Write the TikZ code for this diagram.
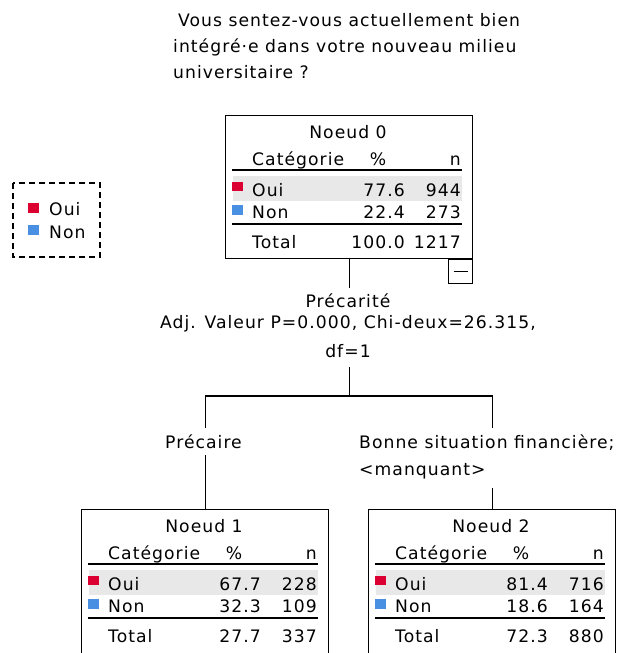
\documentclass[tikz,border=0pt]{standalone}
\usepackage{fontspec}
\newfontfamily\spssfont{DejaVu Sans}[LetterSpace=6]
\definecolor{ouired}{RGB}{220,0,50}
\definecolor{nonblue}{RGB}{74,144,226}
\definecolor{bandgray}{RGB}{232,232,232}
\tikzset{
  txt/.style={inner sep=0pt, font=\spssfont\fontsize{17.2}{20}\selectfont},
  rule/.style={line width=1.3pt, black},
  boxnode/.style={draw, line width=1.2pt, inner sep=0pt, minimum width=247pt, anchor=north west},
  conn/.style={line width=1.2pt, black},
}
% #1 name, #2 height, #3 title, #4 p1, #5 n1, #6 p2, #7 n2, #8 ptot, #9 ntot
\newcommand{\treebox}[9]{%
  \fill[bandgray] (8,61) rectangle (237,86);
  \node[boxnode, minimum height=#2pt] (#1) at (0,0) {};
  \draw[rule] (7,55) -- (237,55);
  \draw[rule] (7,109) -- (237,109);
  \fill[ouired] (7,67) rectangle (18,76);
  \fill[nonblue] (7,90) rectangle (18,100);
  \node[txt, anchor=base] (#1t) at (123,23) {#3};
  \node[txt, anchor=base west] (#1ha) at (27,50) {Catégorie};
  \node[txt, anchor=base] (#1hb) at (153,50) {\%};
  \node[txt, anchor=base east] (#1hc) at (236,50) {n};
  \node[txt, anchor=base west] (#1ra) at (27,81) {Oui};
  \node[txt, anchor=base east] (#1rb) at (180,81) {#4};
  \node[txt, anchor=base east] (#1rc) at (236,81) {#5};
  \node[txt, anchor=base west] (#1sa) at (27,103) {Non};
  \node[txt, anchor=base east] (#1sb) at (180,103) {#6};
  \node[txt, anchor=base east] (#1sc) at (236,103) {#7};
  \node[txt, anchor=base west] (#1ta) at (27,133) {Total};
  \node[txt, anchor=base east] (#1tb) at (180,133) {#8};
  \node[txt, anchor=base east] (#1tc) at (236,133) {#9};
}
\begin{document}
\begin{tikzpicture}[x=1pt, y=-1pt]
\useasboundingbox (0,0) rectangle (618,653);
\fill[white] (0,0) rectangle (618,653);

% title
\node[txt, anchor=base west] (q1) at (178,26) {Vous sentez-vous actuellement bien};
\node[txt, anchor=base west] (q2) at (173,52) {intégré·e dans votre nouveau milieu};
\node[txt, anchor=base west] (q3) at (173,78) {universitaire ?};

% legend
\draw[line width=1.2pt, dash pattern=on 6pt off 4pt] (13,183) rectangle (100,257);
\fill[ouired] (28,203) rectangle (39,213);
\fill[nonblue] (28,225) rectangle (39,235);
\node[txt, anchor=base west] (lo) at (49,215) {Oui};
\node[txt, anchor=base west] (ln) at (49,238) {Non};

% nodes
\begin{scope}[shift={(225,115)}]
  \treebox{n0}{143}{Noeud 0}{77.6}{944}{22.4}{273}{100.0}{1217}
\end{scope}
\begin{scope}[shift={(81,509)}]
  \treebox{n1}{150}{Noeud 1}{67.7}{228}{32.3}{109}{27.7}{337}
\end{scope}
\begin{scope}[shift={(368,509)}]
  \treebox{n2}{150}{Noeud 2}{81.4}{716}{18.6}{164}{72.3}{880}
\end{scope}

% collapse box
\node[draw, line width=1.2pt, minimum width=24pt, minimum height=24pt, inner sep=0pt, anchor=north east] (mb) at (n0.south east) {};
\draw[line width=1.3pt] ([xshift=-7pt]mb.center) -- ([xshift=7pt]mb.center);

% split labels
\node[txt, anchor=base] (s1) at (348,307) {Précarité};
\node[txt, anchor=base] (s2) at (348,328) {Adj. Valeur P=0.000, Chi-deux=26.315,};
\node[txt, anchor=base] (s3) at (348,357) {df=1};
\node[txt, anchor=base west] (b1) at (165,448) {Précaire};
\node[txt, anchor=base west] (b2a) at (359,448) {Bonne situation financière;};
\node[txt, anchor=base west] (b2b) at (359,475) {<manquant>};

% connectors
\coordinate (c0a) at (n0.south |- 0,288);
\coordinate (c0b) at (n0.south |- 0,367);
\coordinate (cj) at (n0.south |- 0,396);
\coordinate (cl) at (n1.north |- 0,396);
\coordinate (cr) at (n2.north |- 0,396);
\coordinate (cl2) at (n1.north |- 0,428);
\coordinate (cl3) at (n1.north |- 0,455);
\coordinate (cr2) at (n2.north |- 0,428);
\coordinate (cr3) at (n2.north |- 0,488);
\draw[conn] (n0.south) -- (c0a);
\draw[conn] (c0b) -- (cj);
\draw[conn] (cl2) -- (cl) -- (cr) -- (cr2);
\draw[conn] (cl3) -- (n1.north);
\draw[conn] (cr3) -- (n2.north);
\end{tikzpicture}
\end{document}
